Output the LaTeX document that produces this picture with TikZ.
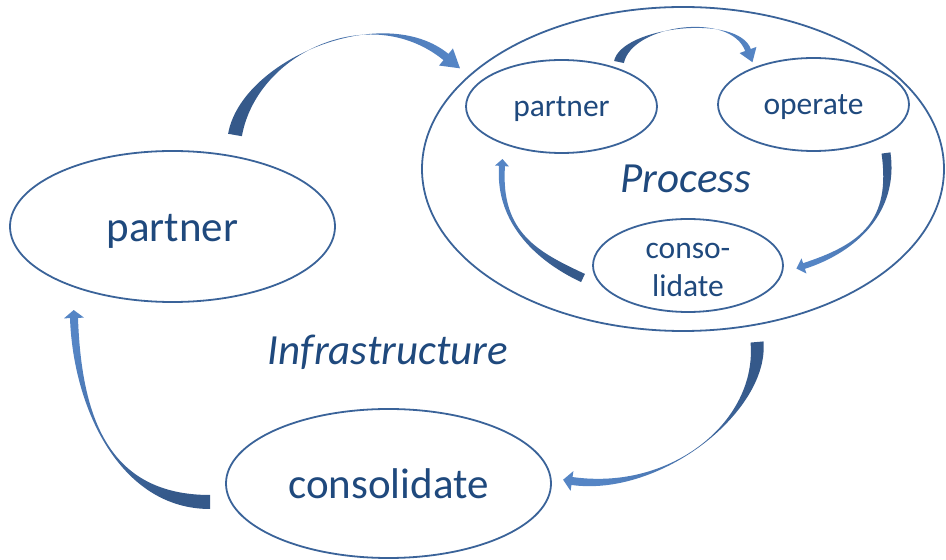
\documentclass[tikz,border=0pt]{standalone}
\usepackage{fontspec}
\setmainfont{Carlito}
\usetikzlibrary{calc,shapes.geometric}

\definecolor{txtblue}{HTML}{1F497D}
\definecolor{lineblue}{HTML}{3A6399}
\definecolor{arrlight}{HTML}{5585C5}
\definecolor{arrdark}{HTML}{35598A}

\tikzset{
  ell/.style={draw=lineblue, line width=1.8pt, ellipse, inner sep=0pt},
  bigtxt/.style={text=txtblue, font=\fontsize{43}{52}\selectfont, text height=34pt, text depth=4pt},
  smalltxt/.style={text=txtblue, font=\fontsize{31.5}{38.5}\selectfont, text height=24pt, text depth=4pt},
  smalllbl/.style={text=txtblue, font=\fontsize{31.5}{38.5}\selectfont},
  bigital/.style={text=txtblue, font=\fontsize{43}{52}\selectfont\itshape},
  ribbonfill/.style={top color=arrlight, bottom color=arrdark},
}

\def\ribhw{4}   % shaft half width at the head
\def\ribk{1.12} % inner side pulled out, thin middle
% tail, head, out, in, out dist, in dist, tail half width, head length, head half width
\newcommand{\ribbon}[9]{%
  \path let \p1=($(#2)-(#1)$) in \pgfextra{\pgfmathsetmacro{\shang}{atan2(\y1,\x1)-90}\xdef\ribang{\shang}};
  \shade[ribbonfill, shading angle=\ribang]
    ($(#1)+(#3+90:#7)$) to[out=#3, in=#4, out distance=#5pt, in distance=#6pt]
    ($(#2)+(#4-90:\ribhw)$) -- ($(#2)+(#4-90:#9)$) -- ($(#2)+(#4+180:#8)$)
    -- ($(#2)+(#4+90:#9)$) -- ($(#2)+(#4+90:\ribhw)$)
    to[out=#4, in=#3, out distance=\ribk*#6pt, in distance=\ribk*#5pt]
    ($(#1)+(#3-90:#7)$) -- cycle;
}

\begin{document}
\begin{tikzpicture}[x=1pt, y=1pt]
  \useasboundingbox (0,0) rectangle (946,560);

  % outer cycle
  \node[ell, bigtxt, minimum width=325pt, minimum height=151pt] (partner) at (172.5,333.5) {partner};
  \node[ell, bigtxt, minimum width=325pt, minimum height=149pt] (consol) at (388.5,76.5) {consolidate};
  \node[ell, minimum width=522pt, minimum height=324pt] (process) at (683,391) {};
  \node[bigital, anchor=base] (infra) at (388,195) {Infrastructure};

  % inner cycle
  \node[ell, smalltxt, minimum width=191pt, minimum height=93pt] (ipartner) at (561.5,453.5) {partner};
  \node[ell, smalltxt, minimum width=191pt, minimum height=93pt] (ioperate) at (813.5,455.5) {operate};
  \node[ell, minimum width=190pt, minimum height=93pt] (iconsol) at (688,294.5) {};
  \node[smalllbl, align=center] (iconsoltxt) at (688,290) {conso-\\lidate};
  \node[bigital, anchor=base] (proc) at (686,367.3) {Process};

  % arrow ends
  \coordinate (aT) at (235,425);
  \coordinate (aH) at (446,503);
  \coordinate (bT) at (619,498);
  \coordinate (bH) at (748,510);
  \coordinate (cT) at (886,407);
  \coordinate (cH) at (804,294);
  \coordinate (dT) at (583,282);
  \coordinate (dH) at (502,394);
  \coordinate (eT) at (757,218);
  \coordinate (eH) at (572,79);
  \coordinate (fT) at (210,58);
  \coordinate (fH) at (74,242);

  \ribbon{aT}{aH}{80}{141}{75}{85}{7}{18}{11}
  \ribbon{eT}{eH}{-85}{-8}{70}{90}{6.5}{9}{10}
  \ribbon{fT}{fH}{180}{-88}{90}{90}{7}{8}{10}
  \def\ribhw{3}
  \ribbon{bT}{bH}{78}{110}{35}{38}{5}{13}{9}
  \ribbon{cT}{cH}{-82}{18}{60}{55}{4.5}{8}{8}
  \ribbon{dT}{dH}{155}{-94}{45}{60}{4.5}{7}{7}
\end{tikzpicture}
\end{document}
